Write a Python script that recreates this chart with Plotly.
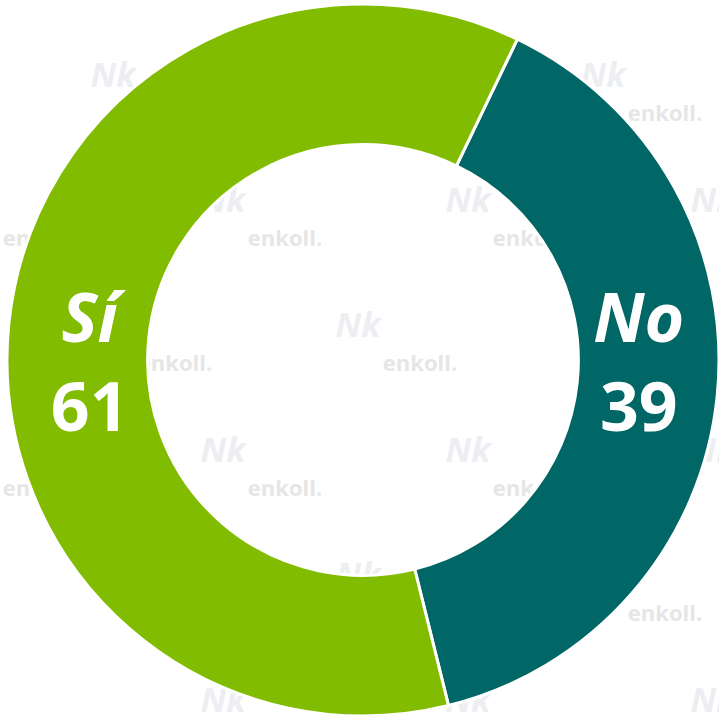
import math
import plotly.graph_objects as go

labels = ["No", "Sí"]
values = [39, 61]
colors = ["#006666", "#82BC00"]

W, H = 719, 716

fig = go.Figure()

# faint tiled "enkoll." watermark underneath the donut (decorative)
CX, CY, R_OUT, R_IN = 363, 360, 355, 214


def hidden(x, y, half_w, half_h):
    if x + half_w < 4 or x - half_w > W - 4 or y + half_h < 4 or y - half_h > H - 4:
        return True
    # completely covered by the ring
    corners = [(x + sx * half_w, y + sy * half_h) for sx in (-1, 1) for sy in (-1, 1)]
    return all(R_IN + 2 < math.hypot(px - CX, py - CY) < R_OUT - 2 for px, py in corners)


wm_x, wm_y, logo_x, logo_y = [], [], [], []
for i in range(7):
    y = -10 + 125 * i
    base = 175 if i % 2 == 1 else 40
    for k in range(-1, 4):
        x = base + 245 * k
        if not hidden(x, y, 40, 10):
            wm_x.append(x)
            wm_y.append(y)
        if not hidden(x - 62, y - 37, 20, 18):
            logo_x.append(x - 62)
            logo_y.append(y - 37)

fig.add_trace(go.Scatter(
    x=wm_x, y=wm_y, mode="text", text=["enkoll."] * len(wm_x),
    textfont=dict(family="Open Sans", size=22, color="#e6e6e6", weight="bold"),
    hoverinfo="skip", showlegend=False))
fig.add_trace(go.Scatter(
    x=logo_x, y=logo_y, mode="text", text=["<i>Nk</i>"] * len(logo_x),
    textfont=dict(family="Open Sans", size=34, color="#eceef2", weight="bold"),
    hoverinfo="skip", showlegend=False))

fig.add_trace(go.Pie(
    labels=labels, values=values,
    marker=dict(colors=colors, line=dict(color="white", width=3)),
    hole=0.605, rotation=25.7, direction="clockwise", sort=False,
    texttemplate="<b><i>%{label}</i></b><br><b>%{value}</b>",
    textposition="inside", insidetextorientation="horizontal",
    textfont=dict(family="Open Sans", size=68, color="white"),
    domain=dict(x=[7 / W, 1.0], y=[0.0, 712 / H]),
    showlegend=False, hoverinfo="skip"))

fig.update_layout(
    width=W, height=H,
    margin=dict(l=0, r=0, t=0, b=0),
    paper_bgcolor="white", plot_bgcolor="white",
    xaxis=dict(range=[0, W], visible=False, fixedrange=True),
    yaxis=dict(range=[H, 0], visible=False, fixedrange=True),
    showlegend=False,
)

fig.write_html(
    "out.html",
    config={"displayModeBar": False, "staticPlot": True},
    post_script="document.body.style.margin='0';document.body.style.overflow='hidden';",
)
